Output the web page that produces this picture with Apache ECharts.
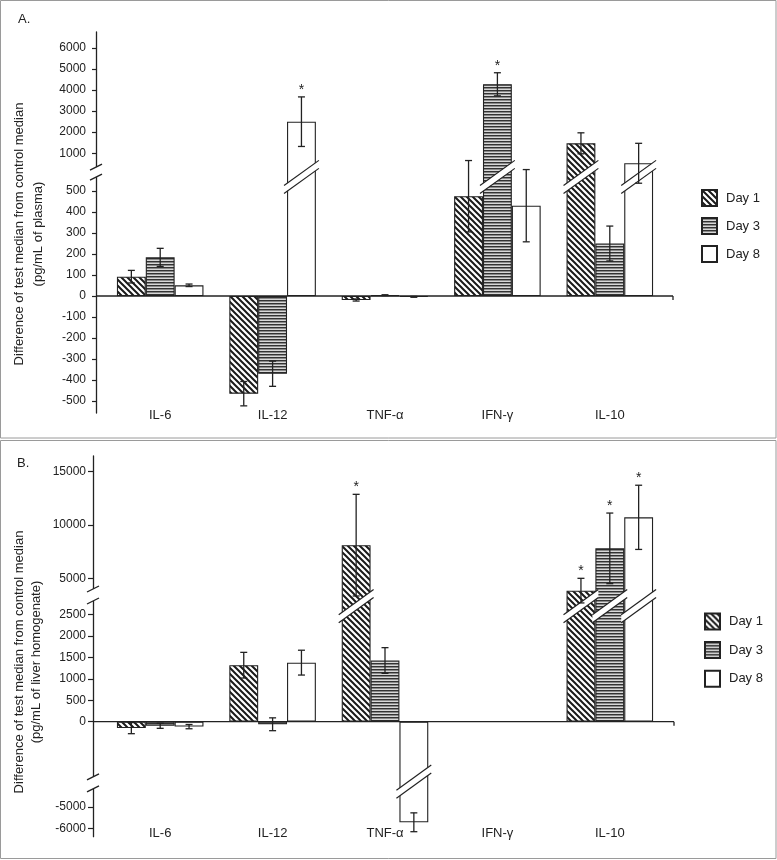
<!DOCTYPE html>
<html><head><meta charset="utf-8">
<script src="https://cdn.jsdelivr.net/npm/echarts@6/dist/echarts.min.js"></script>
<style>html,body{margin:0;padding:0;background:#fff}#c{width:777px;height:860px}</style>
</head><body><div id="c"></div>
<script>
const categories = ['IL-6', 'IL-12', 'TNF-α', 'IFN-γ', 'IL-10'];
const seriesNames = ['Day 1', 'Day 3', 'Day 8'];

// Panel A: pg/mL of plasma
const day1A = [92, -465, -19, 475, 1470];
const day3A = [184, -370, 4, 4280, 250];
const day8A = [51, 2500, -4, 430, 520];
const day1AErr = [30, 58, 5, 170, 500];
const day3AErr = [43, 60, 2, 550, 83];
const day8AErr = [6, 1180, 2, 172, 950];
const day1ASig = [0, 0, 0, 0, 0];
const day3ASig = [0, 0, 0, 1, 0];
const day8ASig = [0, 1, 0, 0, 0];
const ticksA = [-500, -400, -300, -200, -100, 0, 100, 200, 300, 400, 500, 1000, 2000, 3000, 4000, 5000, 6000];

// Panel B: pg/mL of liver homogenate
const day1B = [-150, 1320, 8100, null, 3850];
const day3B = [-95, -60, 1430, null, 7800];
const day8B = [-115, 1380, -5720, null, 10700];
const day1BErr = [130, 300, 4750, null, 1150];
const day3BErr = [60, 150, 300, null, 3300];
const day8BErr = [50, 290, 440, null, 3000];
const day1BSig = [0, 0, 1, 0, 1];
const day3BSig = [0, 0, 0, 0, 1];
const day8BSig = [0, 0, 0, 0, 1];
const ticksB = [-6000, -5000, 0, 500, 1000, 1500, 2000, 2500, 5000, 10000, 15000];

// broken-axis scale segments (value -> display coordinate)
const segA = [{hi: 500, v0: 0, d0: 0, k: 1}, {hi: Infinity, v0: 1000, d0: 680, k: 0.1}];
const segB = [{hi: -2500, v0: -5000, d0: -1990, k: 0.5}, {hi: 2500, v0: 0, d0: 0, k: 1}, {hi: Infinity, v0: 5000, d0: 3350, k: 0.25}];
function seg(segs, v) { for (const s of segs) if (v <= s.hi) return s; }
function toD(segs, v) { const s = seg(segs, v); return s.d0 + (v - s.v0) * s.k; }

const FONT = 'Liberation Sans, Arial, Helvetica, sans-serif';
const INK = '#222';
const GAP = 0.23;

function hatch() {
  const c = document.createElement('canvas'); c.width = 6; c.height = 6;
  const g = c.getContext('2d'); g.fillStyle = '#fff'; g.fillRect(0, 0, 6, 6);
  g.strokeStyle = '#1a1a1a'; g.lineWidth = 2; g.beginPath();
  for (let k = -1; k <= 1; k++) { g.moveTo(k * 6 - 1, -1); g.lineTo(k * 6 + 7, 7); }
  g.stroke(); return c;
}
function hlines() {
  const c = document.createElement('canvas'); c.width = 4; c.height = 3;
  const g = c.getContext('2d');
  g.fillStyle = '#333'; g.fillRect(0, 0, 4, 1);
  g.fillStyle = '#8a8a8a'; g.fillRect(0, 1, 4, 1);
  g.fillStyle = '#d8d8d8'; g.fillRect(0, 2, 4, 1);
  return c;
}
const fills = [{image: hatch(), repeat: 'repeat'}, {image: hlines(), repeat: 'repeat'}, '#ffffff'];

const panels = [
  {segs: segA, vals: [day1A, day3A, day8A], errs: [day1AErr, day3AErr, day8AErr], sig: [day1ASig, day3ASig, day8ASig],
   ticks: ticksA, top: 32, height: 381, min: -557, max: 1257, offset: 8, labelMargin: 10, tickLen: 4, catMargin: -4,
   bands: [567], axisBreaks: [590], half: 5, xEndPad: 7, legendLeft: 701, legendTop: 189, legendGap: 10},
  {segs: segB, vals: [day1B, day3B, day8B], errs: [day1BErr, day3BErr, day8BErr], sig: [day1BSig, day3BSig, day8BSig],
   ticks: ticksB, top: 456, height: 380.7, min: -2687, max: 6208, offset: 11, labelMargin: 7, tickLen: 5, catMargin: -10,
   bands: [2700, -1400], axisBreaks: [2960, -1428], half: 6, xEndPad: 8, legendLeft: 704, legendTop: 612.5, legendGap: 10.6}
];
const GL = 104, GW = 562;

const grid = [], xAxis = [], yAxis = [], series = [], legend = [];
panels.forEach((p, pi) => {
  grid.push({left: GL, width: GW, top: p.top, height: p.height});
  xAxis.push({gridIndex: pi, type: 'category', data: categories, position: 'bottom',
    axisLine: {show: false, onZero: false}, axisTick: {show: false},
    axisLabel: {margin: p.catMargin, fontSize: 13, color: INK, fontFamily: FONT}});
  const tv = p.ticks.map(v => toD(p.segs, v));
  const lbl = {}; p.ticks.forEach((v, i) => { lbl[Math.round(tv[i])] = String(v); });
  yAxis.push({gridIndex: pi, type: 'value', min: p.min, max: p.max, offset: p.offset,
    axisLine: {show: true, lineStyle: {color: INK, width: 1.3}},
    axisTick: {show: true, length: p.tickLen, customValues: tv, lineStyle: {color: INK, width: 1.2}},
    axisLabel: {customValues: tv, margin: p.labelMargin, fontSize: 12, color: INK, fontFamily: FONT,
      formatter: v => lbl[Math.round(v)] !== undefined ? lbl[Math.round(v)] : ''},
    splitLine: {show: false}});
  const rows = [];
  seriesNames.forEach((name, si) => {
    series.push({type: 'bar', name: name, xAxisIndex: pi, yAxisIndex: pi,
      barGap: '0%', barCategoryGap: (GAP * 100) + '%',
      itemStyle: {color: fills[si], borderColor: INK, borderWidth: 1.1},
      data: p.vals[si].map(v => v == null ? null : toD(p.segs, v))});
    p.vals[si].forEach((v, ci) => {
      if (v == null) return;
      const s = seg(p.segs, v), d = toD(p.segs, v), e = p.errs[si][ci] * s.k;
      let band = 0;
      p.bands.forEach(b => { if ((b > 0 && d > b) || (b < 0 && d < b)) band = b; });
      rows.push([ci, si, d, d - e, d + e, p.sig[si][ci], band]);
    });
  });
  series.push({type: 'custom', name: 'err' + pi, xAxisIndex: pi, yAxisIndex: pi, z: 5, silent: true,
    data: rows,
    renderItem: function (params, api) {
      const cat = api.value(0), day = api.value(1), dv = api.value(2), lo = api.value(3), hi = api.value(4),
        sig = api.value(5), band = api.value(6);
      const bandW = api.size([1, 0])[0];
      const groupW = bandW * (1 - GAP), bw = groupW / 3;
      const cx = api.coord([cat, 0])[0] - groupW / 2 + (day + 0.5) * bw;
      const ch = [];
      if (band) {
        const cy = api.coord([cat, band])[1];
        const L = cx - bw / 2 - 3, R = cx + bw / 2 + 3, sl = 0.72, th = 4;
        const yl = cy + sl * (cx - L), yr = cy - sl * (R - cx);
        ch.push({type: 'polygon', shape: {points: [[L, yl - th], [R, yr - th], [R, yr + th], [L, yl + th]]}, style: {fill: '#fff'}});
        ch.push({type: 'line', shape: {x1: L, y1: yl - th, x2: R, y2: yr - th}, style: {stroke: INK, lineWidth: 1.2}});
        ch.push({type: 'line', shape: {x1: L, y1: yl + th, x2: R, y2: yr + th}, style: {stroke: INK, lineWidth: 1.2}});
      }
      const yLo = api.coord([cat, lo])[1], yHi = api.coord([cat, hi])[1], yV = api.coord([cat, dv])[1];
      const cap = 3.5;
      ch.push({type: 'line', shape: {x1: cx, y1: yLo, x2: cx, y2: yHi}, style: {stroke: INK, lineWidth: 1.3}});
      ch.push({type: 'line', shape: {x1: cx - cap, y1: yLo, x2: cx + cap, y2: yLo}, style: {stroke: INK, lineWidth: 1.3}});
      ch.push({type: 'line', shape: {x1: cx - cap, y1: yHi, x2: cx + cap, y2: yHi}, style: {stroke: INK, lineWidth: 1.3}});
      if (sig) {
        const top = Math.min(yHi, yV);
        ch.push({type: 'text', x: cx, y: top - 7, style: {text: '*', fontSize: 14, fontFamily: FONT, fill: INK,
          align: 'center', verticalAlign: 'middle', textAlign: 'center', textVerticalAlign: 'middle'}});
      }
      return {type: 'group', children: ch};
    }});
  legend.push({data: seriesNames, orient: 'vertical', left: p.legendLeft, top: p.legendTop, padding: 0,
    itemWidth: 15, itemHeight: 16, itemGap: p.legendGap, icon: 'rect', selectedMode: false,
    textStyle: {fontSize: 13, color: INK, fontFamily: FONT, padding: [0, 0, 0, 4]}});
});

const chart = echarts.init(document.getElementById('c'), null, {renderer: 'canvas'});
chart.setOption({animation: false, backgroundColor: '#fff', grid, xAxis, yAxis, series, legend});

// decorations: panel frames, panel letters, axis titles, zero lines, axis breaks
const gfx = [
  {type: 'rect', shape: {x: 0.5, y: 0.5, width: 775.5, height: 437.5}, style: {fill: null, stroke: '#9a9a9a', lineWidth: 1}},
  {type: 'rect', shape: {x: 0.5, y: 440.5, width: 775.5, height: 418}, style: {fill: null, stroke: '#9a9a9a', lineWidth: 1}},
  {type: 'text', x: 18, y: 19, style: {text: 'A.', fontSize: 13, fontFamily: FONT, fill: INK, textVerticalAlign: 'middle', verticalAlign: 'middle'}},
  {type: 'text', x: 17, y: 463, style: {text: 'B.', fontSize: 13, fontFamily: FONT, fill: INK, textVerticalAlign: 'middle', verticalAlign: 'middle'}},
  {type: 'text', x: 29, y: 234, rotation: Math.PI / 2, style: {text: 'Difference of test median from control median\n(pg/mL of plasma)',
    fontSize: 13, fontFamily: FONT, fill: INK, lineHeight: 19, textAlign: 'center', textVerticalAlign: 'middle', align: 'center', verticalAlign: 'middle'}},
  {type: 'text', x: 28, y: 662, rotation: Math.PI / 2, style: {text: 'Difference of test median from control median\n(pg/mL of liver homogenate)',
    fontSize: 13, fontFamily: FONT, fill: INK, lineHeight: 17, textAlign: 'center', textVerticalAlign: 'middle', align: 'center', verticalAlign: 'middle'}}
];
panels.forEach((p, pi) => {
  const ax = GL - p.offset, xEnd = GL + GW + p.xEndPad;
  const y0 = chart.convertToPixel({yAxisIndex: pi}, 0);
  gfx.push({type: 'line', z: 10, shape: {x1: ax, y1: y0, x2: xEnd, y2: y0}, style: {stroke: INK, lineWidth: 1.3}});
  gfx.push({type: 'line', z: 10, shape: {x1: xEnd, y1: y0, x2: xEnd, y2: y0 + 4}, style: {stroke: INK, lineWidth: 1.3}});
  p.axisBreaks.forEach(b => {
    const y = chart.convertToPixel({yAxisIndex: pi}, b), h = p.half;
    gfx.push({type: 'rect', z: 10, shape: {x: ax - 3, y: y - h, width: 6, height: 2 * h}, style: {fill: '#fff'}});
    gfx.push({type: 'line', z: 11, shape: {x1: ax - 6, y1: y - h + 3, x2: ax + 6, y2: y - h - 3}, style: {stroke: INK, lineWidth: 1.3}});
    gfx.push({type: 'line', z: 11, shape: {x1: ax - 6, y1: y + h + 3, x2: ax + 6, y2: y + h - 3}, style: {stroke: INK, lineWidth: 1.3}});
  });
});
chart.setOption({graphic: gfx});
</script></body></html>
